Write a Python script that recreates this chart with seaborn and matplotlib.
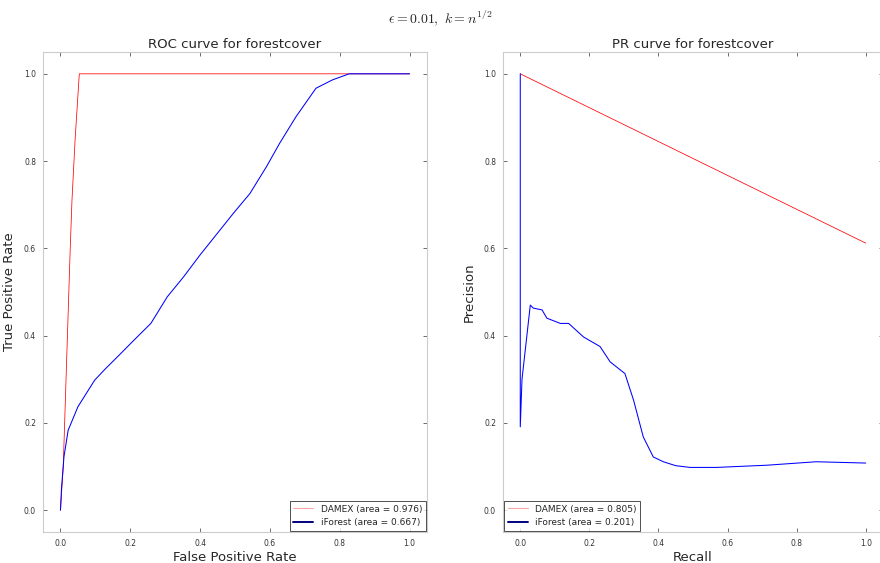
import matplotlib
matplotlib.use("Agg")
import matplotlib.pyplot as plt
import seaborn as sns

# ROC data
roc_damex_fpr = [0.0, 0.008, 0.012, 0.02, 0.028, 0.033, 0.042, 0.054, 1.0]
roc_damex_tpr = [0.0, 0.10, 0.20, 0.40, 0.60, 0.71, 0.85, 1.0, 1.0]
roc_if_fpr = [0.0, 0.003, 0.01, 0.022, 0.05, 0.098, 0.13, 0.164, 0.211, 0.259, 0.306,
              0.353, 0.40, 0.448, 0.495, 0.543, 0.59, 0.628, 0.675, 0.732, 0.779, 0.827, 1.0]
roc_if_tpr = [0.0, 0.05, 0.122, 0.183, 0.237, 0.298, 0.325, 0.352, 0.39, 0.428, 0.489,
              0.535, 0.585, 0.633, 0.68, 0.726, 0.787, 0.841, 0.902, 0.967, 0.986, 1.0, 1.0]

# PR data
pr_damex_rec = [0.0, 1.0]
pr_damex_prec = [1.0, 0.612]
pr_if_rec = [0.0, 0.0, 0.005, 0.029, 0.038, 0.063, 0.077, 0.116, 0.14, 0.183, 0.231,
             0.26, 0.303, 0.328, 0.356, 0.385, 0.414, 0.45, 0.491, 0.568, 0.713, 0.857, 1.0]
pr_if_prec = [1.0, 0.191, 0.30, 0.47, 0.463, 0.459, 0.44, 0.428, 0.428, 0.397, 0.375,
              0.34, 0.313, 0.252, 0.168, 0.122, 0.111, 0.102, 0.098, 0.098, 0.103, 0.111, 0.108]

damex_roc_label = "DAMEX (area = 0.976)"
if_roc_label = "iForest (area = 0.667)"
damex_pr_label = "DAMEX (area = 0.805)"
if_pr_label = "iForest (area = 0.201)"
ticks = [0.0, 0.2, 0.4, 0.6, 0.8, 1.0]

sns.set_theme(style="white")
plt.rcParams['font.family'] = ['DejaVu Sans']
plt.rcParams['mathtext.fontset'] = 'cm'

fig = plt.figure(figsize=(8.8, 5.63), dpi=100)
ax1 = fig.add_axes([43/880, 31/563, 384/880, 480/563])
ax2 = fig.add_axes([503/880, 31/563, 380/880, 480/563])

def draw(ax, x1, y1, l1, x2, y2, l2):
    sns.lineplot(x=x1, y=y1, ax=ax, color="red", lw=0.55, sort=False, estimator=None, label=l1)
    sns.lineplot(x=x2, y=y2, ax=ax, color="blue", lw=0.75, sort=False, estimator=None, label=l2)

draw(ax1, roc_damex_fpr, roc_damex_tpr, damex_roc_label, roc_if_fpr, roc_if_tpr, if_roc_label)
draw(ax2, pr_damex_rec, pr_damex_prec, damex_pr_label, pr_if_rec, pr_if_prec, if_pr_label)

for ax in (ax1, ax2):
    ax.set_xlim(-0.05, 1.05)
    ax.set_ylim(-0.05, 1.05)
    ax.set_xticks(ticks)
    ax.set_yticks(ticks)
    ax.set_xticklabels([f"{t:.1f}" for t in ticks])
    ax.set_yticklabels([f"{t:.1f}" for t in ticks])
    ax.tick_params(direction="in", length=3, width=0.5, labelsize=5.5, colors="#333333",
                   top=True, right=True, bottom=True, left=True, pad=5)
    for s in ax.spines.values():
        s.set_color("#cccccc")
        s.set_linewidth(0.8)

ax1.set_title("ROC curve for forestcover", fontsize=9.5, pad=3)
ax1.set_xlabel("False Positive Rate", fontsize=9.5, labelpad=2)
ax1.set_ylabel("True Positive Rate", fontsize=9.5, labelpad=6)
ax2.set_title("PR curve for forestcover", fontsize=9.5, pad=3)
ax2.set_xlabel("Recall", fontsize=9.5, labelpad=2)
ax2.set_ylabel("Precision", fontsize=9.5, labelpad=6)

for ax, loc in ((ax1, "lower right"), (ax2, "lower left")):
    leg = ax.legend(loc=loc, fontsize=6.5, frameon=True, fancybox=False, borderaxespad=0.15,
                    handlelength=2.2)
    leg.get_frame().set_edgecolor("black")
    leg.get_frame().set_linewidth(0.6)
    lines = leg.get_lines()
    lines[0].set_linewidth(0.8)
    lines[0].set_alpha(0.35)
    lines[1].set_linewidth(1.4)
    lines[1].set_color("navy")

fig.suptitle(r"$\epsilon=0.01,\ k=n^{1/2}$", fontsize=10, y=0.985)
fig.savefig("out.png", dpi=100)
